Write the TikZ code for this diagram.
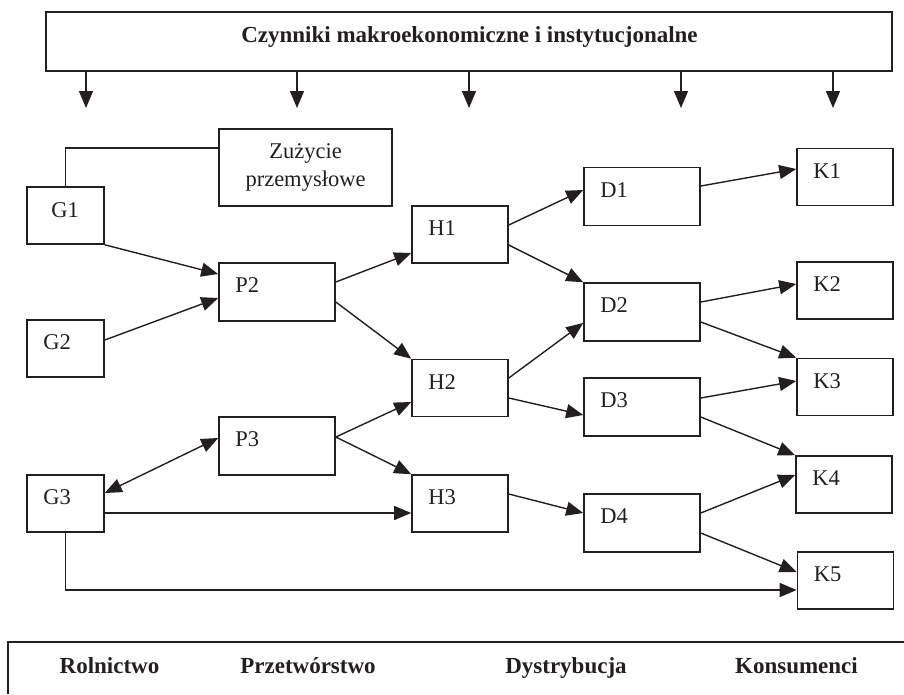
\documentclass[tikz,border=0pt]{standalone}
\usepackage{fontspec}
\setmainfont{Liberation Serif}
\usetikzlibrary{arrows.meta}
\definecolor{ink}{HTML}{231F20}
\begin{document}
\begin{tikzpicture}[x=1pt,y=-1pt,
  frame/.style={draw=ink,line width=1.6pt,inner sep=0pt},
  gbox/.style={frame,minimum width=77pt,minimum height=57pt},
  wbox/.style={frame,minimum width=116pt,minimum height=58pt},
  nbox/.style={frame,minimum width=96pt,minimum height=57pt},
  lbl/.style={anchor=base west,inner sep=0pt,text=ink,font=\fontsize{22.5}{28}\selectfont},
  head/.style={anchor=base,inner sep=0pt,text=ink,font=\fontsize{23}{28}\selectfont\bfseries},
  link/.style={draw=ink,line width=1.4pt},
  arr/.style={link,-{Triangle[length=17pt,width=14pt]}},
  darr/.style={link,{Triangle[length=17pt,width=14pt]}-{Triangle[length=17pt,width=14pt]}}]
\useasboundingbox (0,0) rectangle (904,694);

% header frame and its five downward influences
\node[frame,minimum width=846pt,minimum height=59pt] (top) at (469,41.5) {};
\node[head] (toptxt) at (469.5,42) {Czynniki makroekonomiczne i instytucjonalne};
\foreach \i/\x in {1/86,2/297,3/469,4/681,5/833}{
  \coordinate (t\i) at (\x,108);
  \draw[arr] (top.south -| t\i) -- (t\i);
}

% industrial use
\node[frame,minimum width=173pt,minimum height=77pt,align=center,text=ink,
      font=\fontsize{22.5}{28}\selectfont] (zu) at (305.5,167.5) {Zużycie\\przemysłowe};

% agriculture
\node[gbox] (g1) at (65.5,215.5) {};
\node[gbox] (g2) at (65.5,348.5) {};
\node[gbox] (g3) at (65.5,503.5) {};
% processing
\node[wbox] (p2) at (277,292) {};
\node[wbox] (p3) at (277,446) {};
% wholesale
\node[nbox] (h1) at (460,234.5) {};
\node[nbox] (h2) at (460,388) {};
\node[nbox] (h3) at (460,503.5) {};
% distribution
\node[wbox] (d1) at (642,196.5) {};
\node[wbox] (d2) at (642,312) {};
\node[wbox] (d3) at (642,407) {};
\node[wbox] (d4) at (642,523) {};
% consumers
\node[nbox] (k1) at (845,177) {};
\node[nbox] (k2) at (845,290.5) {};
\node[nbox] (k3) at (845,387) {};
\node[nbox] (k4) at (844,484.5) {};
\node[nbox] (k5) at (845.5,580.5) {};

% box labels
\node[lbl] at ([shift={(25pt,-31pt)}]g1.north west) {G1};
\foreach \n/\t in {g2/G2,g3/G3,p2/P2,p3/P3,h1/H1,h2/H2,h3/H3,d1/D1,d2/D2,d3/D3,d4/D4,k1/K1,k2/K2,k3/K3,k4/K4,k5/K5}
  \node[lbl] at ([shift={(17pt,-30.5pt)}]\n.north west) {\t};

% flows
\draw[link] (g1.north) |- ([yshift=19.5pt]zu.west);
\draw[arr] (g1.south east) -- (p2.west |- 0,274);
\draw[arr] (g2.east |- 0,340) -- (p2.west |- 0,298);
\draw[darr] (g3.east |- 0,493) -- (p3.west |- 0,438);
\draw[arr] (g3.east |- 0,513) -- (h3.west |- 0,513);
\draw[arr] (g3.south) |- ([yshift=-9.5pt]k5.west);

\draw[arr] (p2.east |- 0,282) -- (h1.west |- 0,253);
\draw[arr] (p2.east |- 0,302) -- (h2.north west);
\draw[arr] (p3.east |- 0,437) -- (h2.west |- 0,402);
\draw[arr] (p3.east |- 0,437) -- (h3.north west);

\draw[arr] (h1.east |- 0,225) -- (d1.west |- 0,190);
\draw[arr] (h1.east |- 0,245) -- (d2.north west);
\draw[arr] (h2.east |- 0,378) -- (d2.west |- 0,323);
\draw[arr] (h2.east |- 0,398) -- (d3.west |- 0,415);
\draw[arr] (h3.east |- 0,494) -- (d4.west |- 0,513);

\draw[arr] (d1.east |- 0,186) -- (k1.west |- 0,169);
\draw[arr] (d2.east |- 0,302) -- (k2.west |- 0,284);
\draw[arr] (d2.east |- 0,322) -- (k3.north west);
\draw[arr] (d3.east |- 0,398) -- (k3.west |- 0,381);
\draw[arr] (d3.east |- 0,417) -- (k4.north west);
\draw[arr] (d4.east |- 0,513) -- (k4.west |- 0,475);
\draw[arr] (d4.east |- 0,533) -- (k5.west |- 0,572);

% stage captions
\coordinate (bl) at (8,642);
\coordinate (br) at (904,642);
\coordinate (bb) at (8,694);
\draw[link] (bb) -- (bl) -- (br);
\node[head] (c1) at (109.5,673) {Rolnictwo};
\node[head] (c2) at (308,673) {Przetwórstwo};
\node[head] (c3) at (566,673) {Dystrybucja};
\node[head] (c4) at (796.5,673) {Konsumenci};
\end{tikzpicture}
\end{document}
